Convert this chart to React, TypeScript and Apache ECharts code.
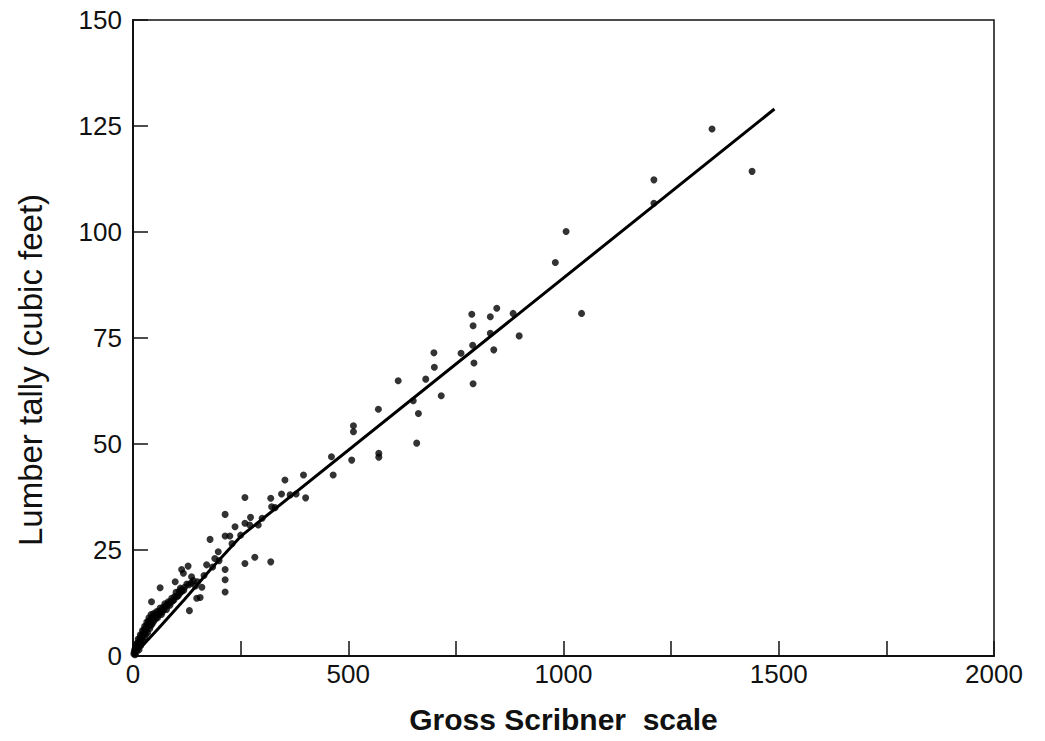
import React, { useEffect, useRef } from "react";
import * as echarts from "echarts";

// Scatter observations: [gross Scribner scale, lumber tally cubic feet]
const upperPoints: [number, number][] = [
  [1345, 124.3], [1438, 114.3], [1210, 112.3], [1210, 106.8], [1006, 100.1],
  [981, 92.8], [1042, 80.8],
];

const highMidPoints: [number, number][] = [
  [787, 80.6], [790, 77.9], [830, 80.0], [845, 82.0], [883, 80.8], [830, 76.1],
  [897, 75.5], [789, 73.3], [762, 71.4], [699, 71.5], [700, 68.1], [838, 72.2],
  [792, 69.1], [790, 64.2], [716, 61.4], [680, 65.3],
];

const midPoints: [number, number][] = [
  [616, 64.9], [651, 60.2], [663, 57.2], [659, 50.2], [570, 58.2], [571, 47.8],
  [571, 46.9], [512, 54.3], [512, 52.9], [508, 46.2], [461, 47.0], [465, 42.7],
  [396, 42.7], [401, 37.3],
];

const lowMidPoints: [number, number][] = [
  [353, 41.5], [260, 37.4], [320, 37.2], [345, 38.2], [379, 38.2], [322, 35.2],
  [214, 33.4], [237, 30.5], [273, 32.7], [271, 30.9], [291, 30.9], [260, 31.3],
  [179, 27.5], [214, 28.3], [225, 28.3], [198, 24.6], [190, 23.0], [171, 21.5],
  [283, 23.3], [260, 21.8], [320, 22.2], [214, 20.4], [214, 18.0], [214, 15.1],
  [128, 21.2], [113, 20.4], [117, 19.5], [136, 18.7], [98, 17.5], [63, 16.1],
  [113, 15.2], [160, 16.2], [156, 13.8], [131, 10.7], [43, 12.8], [148, 13.6],
  [109, 14.8],
  [150, 17.5], [165, 19.0], [185, 21.0], [200, 22.5], [230, 26.5], [250, 28.5],
  [300, 32.5], [330, 35.0], [365, 38.0],
];

const clusterPoints: [number, number][] = [
  [2, 0.5], [4, 1.5], [5, 0.3], [6, 2.5], [8, 1.0], [9, 3.0], [10, 2.0], [12, 4.0],
  [14, 1.5], [15, 3.5], [17, 5.0], [18, 2.5], [20, 4.0], [22, 6.0], [24, 3.5],
  [25, 5.5], [27, 7.0], [28, 4.5], [30, 6.0], [32, 8.0], [34, 5.5], [35, 7.5],
  [37, 9.0], [39, 6.5], [40, 8.5], [42, 9.8], [44, 7.5], [46, 9.2], [48, 10.0],
  [50, 8.5], [52, 9.8], [55, 10.5], [57, 9.0], [60, 10.5], [63, 11.3], [66, 9.8],
  [70, 11.5], [74, 12.3], [78, 11.0], [82, 12.8], [86, 12.0], [90, 13.6],
  [95, 13.2], [100, 15.0], [105, 14.2], [110, 16.0], [118, 15.5], [125, 17.0],
  [140, 17.8], [145, 16.5],
  [3, 1.0], [7, 1.8], [11, 3.0], [16, 4.2], [19, 3.2], [21, 5.0], [23, 4.8],
  [26, 6.2], [29, 5.2], [31, 7.0], [33, 6.6], [36, 8.2], [38, 7.8], [41, 7.2],
  [43, 8.8], [45, 8.4], [47, 8.0], [49, 9.4], [53, 9.0], [56, 9.8], [59, 9.6],
  [62, 10.2], [65, 10.8], [68, 10.4], [72, 11.0], [76, 11.8], [80, 12.0],
  [84, 12.4], [88, 12.8], [92, 13.0], [97, 14.0], [102, 14.0], [107, 15.2],
  [113, 15.6], [120, 16.2], [130, 16.8], [135, 17.2],
];

// Fitted curve (piecewise linear)
const fitLine: [number, number][] = [
  [0, 0], [60, 6.6], [120, 13.4], [180, 20.4], [250, 28.2], [1490, 129],
];

const xTicks = { min: 0, max: 2000, interval: 500 };
const yTicks = { min: 0, max: 150, interval: 25 };

const xTitle = "Gross Scribner  scale";
const yTitle = "Lumber tally (cubic feet)";

const FONT = "Liberation Sans, Arial, Helvetica, sans-serif";

export default function App() {
  const ref = useRef<HTMLDivElement>(null);

  useEffect(() => {
    if (!ref.current) return;
    const chart = echarts.init(ref.current, undefined, { renderer: "svg" });
    const scatterStyle = {
      type: "scatter" as const,
      symbolSize: 7,
      itemStyle: { color: "#000" },
      z: 3,
    };
    chart.setOption({
      animation: false,
      backgroundColor: "#fff",
      grid: {
        left: 133,
        right: 51,
        top: 20,
        bottom: 85,
        show: true,
        borderColor: "#111",
        borderWidth: 1.5,
        backgroundColor: "transparent",
      },
      graphic: [
        {
          type: "text",
          x: 30,
          y: 370,
          rotation: Math.PI / 2,
          style: {
            text: yTitle,
            fontFamily: FONT,
            fontSize: 33,
            fill: "#111",
            align: "center",
            verticalAlign: "middle",
          },
        },
      ],
      xAxis: {
        type: "value",
        min: xTicks.min,
        max: xTicks.max,
        interval: xTicks.interval,
        name: xTitle,
        nameLocation: "middle",
        nameGap: 48,
        nameTextStyle: { fontFamily: FONT, fontSize: 30, color: "#111", fontWeight: "bold" },
        axisLine: { show: true, lineStyle: { color: "#111", width: 2 } },
        axisTick: { show: true, inside: true, length: 15, lineStyle: { color: "#111", width: 1.5 } },
        minorTick: { show: true, splitNumber: 2, length: 15, lineStyle: { color: "#111", width: 1.5 } },
        splitLine: { show: false },
        axisLabel: {
          fontFamily: FONT,
          fontSize: 26,
          color: "#111",
          margin: 5,
          formatter: (v: number) => String(v),
        },
      },
      yAxis: {
        type: "value",
        min: yTicks.min,
        max: yTicks.max,
        interval: yTicks.interval,
        axisLine: { show: true, lineStyle: { color: "#111", width: 2 } },
        axisTick: { show: true, inside: true, length: 15, lineStyle: { color: "#111", width: 1.5 } },
        splitLine: { show: false },
        axisLabel: {
          fontFamily: FONT,
          fontSize: 26,
          color: "#111",
          margin: 11,
          formatter: (v: number) => String(v),
        },
      },
      series: [
        { ...scatterStyle, data: upperPoints },
        { ...scatterStyle, data: highMidPoints },
        { ...scatterStyle, data: midPoints },
        { ...scatterStyle, data: lowMidPoints },
        { ...scatterStyle, data: clusterPoints },
        {
          type: "line",
          data: fitLine,
          showSymbol: false,
          symbol: "none",
          lineStyle: { color: "#000", width: 3 },
          z: 4,
        },
      ],
    });
    return () => chart.dispose();
  }, []);

  return <div ref={ref} style={{ width: 1045, height: 741, margin: -8 }} />;
}
